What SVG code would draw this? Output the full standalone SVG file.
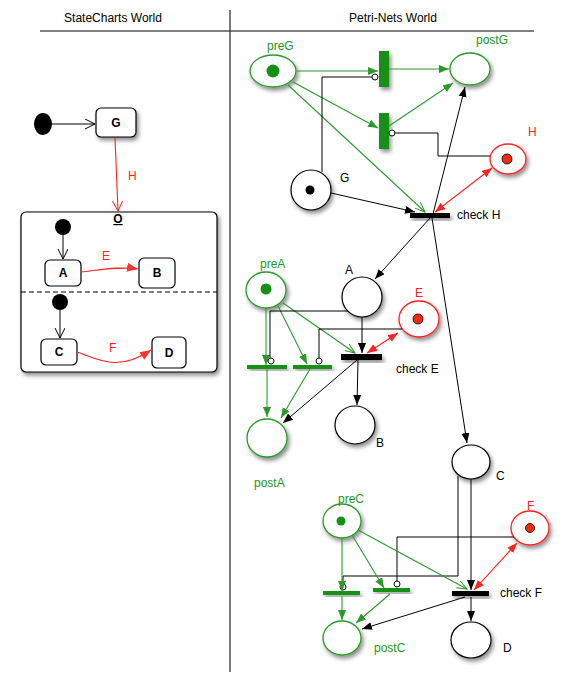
<svg xmlns="http://www.w3.org/2000/svg" width="568" height="683" viewBox="0 0 568 683">
<style>
text{font-family:"Liberation Sans",Arial,sans-serif;font-size:12px}
.hd{font-size:12px;text-anchor:middle}
.bx{fill:#fff;stroke:#000;stroke-width:1.2}
.bl{font-weight:bold;text-anchor:middle;font-size:12px}
.pg{fill:#fff;stroke:#2a9a2a;stroke-width:1.3}
.pk{fill:#fff;stroke:#000;stroke-width:1.2}
.pr{fill:#fff;stroke:#f22;stroke-width:1.3}
.tg{fill:#159015}
.tk{fill:#000}
.lg{fill:#1a9a1a}
.lr{fill:#f22}
.ek{fill:none;stroke:#000;stroke-width:1}
.eg{fill:none;stroke:#2a9a2a;stroke-width:1.1}
.er{fill:none;stroke:#f22;stroke-width:1.1}
</style>
<defs>
<filter id="sh" x="-40%" y="-40%" width="190%" height="190%"><feDropShadow dx="2" dy="3" stdDeviation="2" flood-opacity="0.45"/></filter>
<marker id="ak" markerUnits="userSpaceOnUse" markerWidth="12" markerHeight="10" refX="10" refY="4" orient="auto"><path d="M0,0 L10,4 L0,8 z" fill="#000"/></marker>
<marker id="ag" markerUnits="userSpaceOnUse" markerWidth="12" markerHeight="10" refX="10" refY="4" orient="auto"><path d="M0,0 L10,4 L0,8 z" fill="#2a9a2a"/></marker>
<marker id="ar" markerUnits="userSpaceOnUse" markerWidth="12" markerHeight="10" refX="10" refY="4" orient="auto-start-reverse"><path d="M0,0 L10,4 L0,8 z" fill="#f22"/></marker>
<marker id="arc" markerUnits="userSpaceOnUse" markerWidth="14" markerHeight="10" refX="11" refY="4.5" orient="auto"><path d="M0,0 L11,4.5 L0,9 z" fill="#f33"/></marker>
<marker id="og" markerUnits="userSpaceOnUse" markerWidth="12" markerHeight="10" refX="10" refY="4" orient="auto"><path d="M0,0 L10,4 L0,8" fill="none" stroke="#2a9a2a"/></marker>
<marker id="ok" markerUnits="userSpaceOnUse" markerWidth="12" markerHeight="12" refX="10" refY="5" orient="auto"><path d="M0,0 L10,5 L0,10" fill="none" stroke="#000"/></marker>
<marker id="or" markerUnits="userSpaceOnUse" markerWidth="12" markerHeight="12" refX="10" refY="5" orient="auto"><path d="M0,0 L10,5 L0,10" fill="none" stroke="#f22"/></marker>
</defs>
<rect width="568" height="683" fill="#fff"/>
<g id="header">
<text class="hd" x="113" y="22">StateCharts World</text>
<text class="hd" x="393" y="22">Petri-Nets World</text>
<line x1="40" y1="31" x2="534" y2="31" stroke="#000" stroke-width="1"/>
<line x1="230" y1="10" x2="230" y2="672" stroke="#333" stroke-width="1.3"/>
</g>
<!-- Statechart nodes -->
<g id="init1"><ellipse cx="43" cy="124" rx="9" ry="11" fill="#000"/></g>
<g id="stateG"><rect class="bx" x="96" y="108" width="40" height="29" rx="5" filter="url(#sh)"/><text class="bl" x="116" y="127">G</text></g>
<g id="labelH"><text x="128" y="180" fill="#f22">H</text></g>
<g id="stateO"><rect class="bx" x="21" y="212" width="196" height="160" rx="5" filter="url(#sh)"/><text class="bl" x="118" y="223" text-decoration="underline">O</text><line x1="21" y1="292" x2="217" y2="292" stroke="#000" stroke-width="1.2" stroke-dasharray="5,3"/></g>
<g id="init2"><ellipse cx="63" cy="227" rx="8" ry="8" fill="#000"/></g>
<g id="stateA"><rect class="bx" x="45" y="260" width="36" height="26" rx="5"/><text class="bl" x="63" y="277">A</text></g>
<g id="stateB"><rect class="bx" x="139" y="258" width="36" height="30" rx="5"/><text class="bl" x="157" y="277">B</text></g>
<g id="labelE"><text x="102" y="260" fill="#f22">E</text></g>
<g id="init3"><ellipse cx="60" cy="302" rx="8" ry="8" fill="#000"/></g>
<g id="stateC"><rect class="bx" x="41" y="339" width="36" height="26" rx="5"/><text class="bl" x="59" y="356">C</text></g>
<g id="stateD"><rect class="bx" x="152" y="337" width="34" height="31" rx="5"/><text class="bl" x="169" y="357">D</text></g>
<g id="labelF"><text x="109" y="352" fill="#f22">F</text></g>
<!-- Petri nodes -->
<g id="preG"><ellipse class="pg" cx="273" cy="71" rx="23" ry="16" filter="url(#sh)"/><circle cx="273" cy="71" r="6.5" class="tg"/><text class="lg" x="267" y="50">preG</text></g>
<g id="postG"><ellipse class="pg" cx="470" cy="69" rx="20" ry="16" filter="url(#sh)"/><text class="lg" x="476" y="44">postG</text></g>
<g id="tG1"><rect class="tg" x="379" y="51" width="10" height="36" filter="url(#sh)"/></g>
<g id="tG2"><rect class="tg" x="379" y="113" width="10" height="36" filter="url(#sh)"/></g>
<g id="placeG"><ellipse class="pk" cx="311" cy="190" rx="20" ry="20" filter="url(#sh)"/><circle cx="310" cy="190" r="4.5" fill="#000"/><text x="340" y="182">G</text></g>
<g id="placeH"><ellipse class="pr" cx="508" cy="159" rx="18" ry="15" filter="url(#sh)"/><circle cx="507" cy="159" r="5" fill="#f42a10" stroke="#000" stroke-width="0.8"/><text class="lr" x="528" y="136">H</text></g>
<g id="checkH"><rect class="tk" x="410" y="213" width="40" height="5" filter="url(#sh)"/><text x="457" y="219">check H</text></g>
<g id="preA"><ellipse class="pg" cx="266" cy="290" rx="20" ry="18" filter="url(#sh)"/><circle cx="266" cy="289" r="5.5" class="tg"/><text class="lg" x="260" y="268">preA</text></g>
<g id="placeA"><ellipse class="pk" cx="362" cy="297" rx="20" ry="20" filter="url(#sh)"/><text x="345" y="274">A</text></g>
<g id="placeE"><ellipse class="pr" cx="419" cy="319" rx="20" ry="18" filter="url(#sh)"/><circle cx="418" cy="319" r="5" fill="#f42a10" stroke="#000" stroke-width="0.8"/><text class="lr" x="415" y="297">E</text></g>
<g id="tA1"><rect class="tg" x="247" y="365" width="40" height="4" filter="url(#sh)"/></g>
<g id="tA2"><rect class="tg" x="293" y="365" width="39" height="4" filter="url(#sh)"/></g>
<g id="checkE"><rect class="tk" x="341" y="354" width="41" height="6" filter="url(#sh)"/><text x="396" y="373">check E</text></g>
<g id="postA"><ellipse class="pg" cx="267" cy="438" rx="20" ry="19" filter="url(#sh)"/><text class="lg" x="254" y="487">postA</text></g>
<g id="placeB"><ellipse class="pk" cx="355" cy="425" rx="20" ry="19" filter="url(#sh)"/><text x="376" y="447">B</text></g>
<g id="placeC"><ellipse class="pk" cx="471" cy="462" rx="19" ry="17" filter="url(#sh)"/><text x="496" y="480">C</text></g>
<g id="preC"><ellipse class="pg" cx="342" cy="521" rx="19" ry="17" filter="url(#sh)"/><circle cx="341" cy="521" r="4.5" class="tg"/><text class="lg" x="338" y="503">preC</text></g>
<g id="placeF"><ellipse class="pr" cx="530" cy="528" rx="19" ry="17" filter="url(#sh)"/><circle cx="530" cy="528" r="4.5" fill="#f42a10" stroke="#000" stroke-width="0.8"/><text class="lr" x="527" y="510">F</text></g>
<g id="tC1"><rect class="tg" x="323" y="591" width="37" height="4" filter="url(#sh)"/></g>
<g id="tC2"><rect class="tg" x="373" y="588" width="37" height="4" filter="url(#sh)"/></g>
<g id="checkF"><rect class="tk" x="452" y="591" width="37" height="5" filter="url(#sh)"/><text x="500" y="597">check F</text></g>
<g id="postC"><ellipse class="pg" cx="342" cy="638" rx="19" ry="17" filter="url(#sh)"/><text class="lg" x="374" y="652">postC</text></g>
<g id="placeD"><ellipse class="pk" cx="471" cy="640" rx="20" ry="18" filter="url(#sh)"/><text x="503" y="652">D</text></g>
<g id="connectors">
<!-- statecharts -->
<line class="ek" x1="52" y1="124" x2="95" y2="124" marker-end="url(#ok)"/>
<line class="er" x1="115" y1="138" x2="118" y2="211" marker-end="url(#or)"/>
<line class="ek" x1="63" y1="235" x2="63" y2="259" marker-end="url(#ok)"/>
<path class="er" d="M81,272 C100,270 120,266 138,269" marker-end="url(#arc)"/>
<line class="ek" x1="60" y1="310" x2="60" y2="338" marker-end="url(#ok)"/>
<path class="er" d="M77,352 C100,360 118,372 151,350" marker-end="url(#arc)"/>
<!-- G region -->
<line class="eg" x1="297" y1="71" x2="378" y2="71" marker-end="url(#ag)"/>
<line class="eg" x1="389" y1="69" x2="449" y2="69" marker-end="url(#ag)"/>
<line class="eg" x1="293" y1="82" x2="378" y2="128" marker-end="url(#ag)"/>
<line class="eg" x1="389" y1="126" x2="453" y2="83" marker-end="url(#ag)"/>
<line class="eg" x1="288" y1="85" x2="425" y2="212" marker-end="url(#og)" stroke="#2a7a2a" stroke-width="0.9"/>
<polyline class="ek" points="322,172 322,77 372,77"/>
<circle cx="375" cy="77" r="3" fill="#fff" stroke="#000"/>
<polyline class="ek" points="490,156 438,156 438,133 395,133"/>
<circle cx="392" cy="133" r="3" fill="#fff" stroke="#000"/>
<line class="ek" x1="331" y1="193" x2="415" y2="212" marker-end="url(#ak)"/>
<line class="ek" x1="432" y1="218" x2="465" y2="87" marker-end="url(#ak)"/>
<line class="er" x1="435" y1="212" x2="492" y2="168" marker-start="url(#ar)" marker-end="url(#ar)"/>
<line class="ek" x1="430" y1="218" x2="375" y2="279" marker-end="url(#ak)"/>
<line class="ek" x1="432" y1="218" x2="467" y2="443" marker-end="url(#ak)"/>
<!-- A region -->
<line class="eg" x1="266" y1="308" x2="266" y2="365" marker-end="url(#ag)"/>
<line class="eg" x1="278" y1="306" x2="307" y2="364" marker-end="url(#ag)"/>
<line class="eg" x1="283" y1="303" x2="355" y2="353" marker-end="url(#og)" stroke-width="0.9"/>
<line class="ek" x1="362" y1="317" x2="362" y2="353" marker-end="url(#ak)"/>
<polyline class="ek" points="348,311 270,311 270,359"/>
<circle cx="271" cy="361" r="3" fill="#fff" stroke="#000"/>
<polyline class="ek" points="402,329 319,329 319,359"/>
<circle cx="319" cy="361" r="3" fill="#fff" stroke="#000"/>
<line class="er" x1="367" y1="353" x2="398" y2="333" marker-start="url(#ar)" marker-end="url(#ar)"/>
<line class="ek" x1="358" y1="360" x2="357" y2="405" marker-end="url(#ak)"/>
<line class="ek" x1="357" y1="360" x2="283" y2="423" marker-end="url(#ak)"/>
<line class="eg" x1="267" y1="369" x2="267" y2="417" marker-end="url(#ag)"/>
<line class="eg" x1="310" y1="369" x2="281" y2="418" marker-end="url(#ag)"/>
<!-- C region -->
<line class="ek" x1="471" y1="479" x2="471" y2="590" marker-end="url(#ak)"/>
<polyline class="ek" points="458,476 458,576 343,576 343,585"/>
<circle cx="343" cy="587" r="3" fill="#fff" stroke="#000"/>
<polyline class="ek" points="514,537 397,537 397,582"/>
<circle cx="397" cy="584" r="3" fill="#fff" stroke="#000"/>
<line class="eg" x1="342" y1="538" x2="342" y2="591" marker-end="url(#ag)"/>
<line class="eg" x1="352" y1="535" x2="384" y2="588" marker-end="url(#ag)"/>
<line class="eg" x1="358" y1="530" x2="467" y2="589" marker-end="url(#og)" stroke-width="0.9"/>
<line class="er" x1="474" y1="590" x2="517" y2="543" marker-start="url(#ar)" marker-end="url(#ar)"/>
<line class="ek" x1="471" y1="597" x2="471" y2="621" marker-end="url(#ak)"/>
<line class="ek" x1="465" y1="597" x2="362" y2="629" marker-end="url(#ak)"/>
<line class="eg" x1="342" y1="596" x2="342" y2="620" marker-end="url(#ag)"/>
<line class="eg" x1="390" y1="594" x2="356" y2="623" marker-end="url(#ag)"/>
</g>
</svg>
